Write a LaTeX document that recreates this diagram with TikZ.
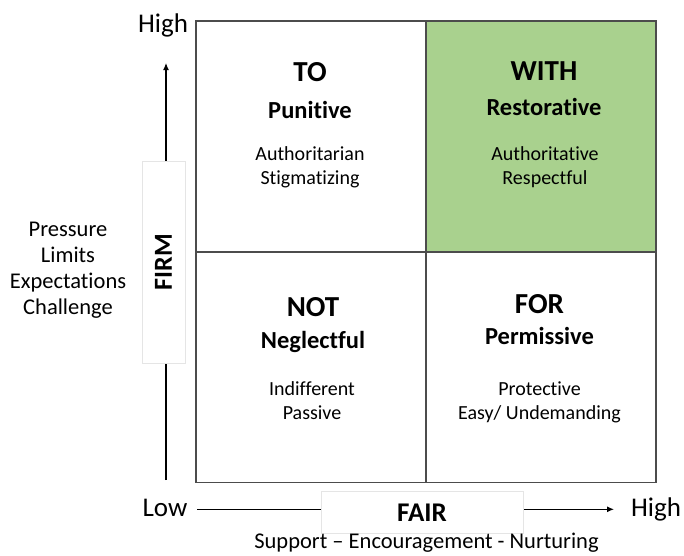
\documentclass[tikz,border=0pt]{standalone}
\usepackage{fontspec}
\setmainfont{Carlito}[Ligatures={TeX,NoCommon}]
\usetikzlibrary{arrows.meta}
\definecolor{withgreen}{HTML}{A9D18E}
\tikzstyle{cell}=[draw=black!70,line width=1.3pt,minimum width=230pt,minimum height=231pt,inner sep=0pt]
\tikzstyle{axis}=[line width=1.2pt,-{Latex[length=7pt,width=6pt]}]
\tikzstyle{tagbox}=[draw=black!10,fill=white,line width=0.5pt,inner sep=0pt]
\tikzstyle{mode}=[anchor=base,font=\fontsize{29}{32}\selectfont\bfseries]
\tikzstyle{kind}=[anchor=base,font=\fontsize{24.5}{27}\selectfont\bfseries]
\tikzstyle{desc}=[inner sep=0pt,font=\fontsize{20}{24}\selectfont,align=center]
\tikzstyle{side}=[inner sep=0pt,font=\fontsize{22.5}{26}\selectfont,align=center]
\tikzstyle{level}=[anchor=base,font=\fontsize{27}{30}\selectfont]

\begin{document}
\begin{tikzpicture}[x=1pt,y=-1pt]
  \useasboundingbox (0,0) rectangle (684,555);

  % the four windows
  \node[cell]                (to)   at (311,136.5) {};
  \node[cell,fill=withgreen] (with) at (541,136.5) {};
  \node[cell]                (not)  at (311,367)   {};
  \node[cell]                (for)  at (541,367)   {};

  \node[mode] (toname)   at (310,81.7) {TO};
  \node[kind] (tokind)   at (310,118)  {Punitive};
  \node[desc] (todesc)   at (310,167)  {Authoritarian\\Stigmatizing};

  \node[mode] (withname) at (544,80)   {WITH};
  \node[kind] (withkind) at (544,115)  {Restorative};
  \node[desc] (withdesc) at (545,167)  {Authoritative\\Respectful};

  \node[mode] (notname)  at (313,316)  {NOT};
  \node[kind] (notkind)  at (313,348)  {Neglectful};
  \node[desc] (notdesc)  at (312,400.5) {Indifferent\\Passive};

  \node[mode] (forname)  at (539.5,313.5) {FOR};
  \node[kind] (forkind)  at (539.5,344)   {Permissive};
  \node[desc] (fordesc)  at (539.5,402.5) {Protective\\Easy/ Undemanding};

  % vertical axis
  \coordinate (ylow) at (166,480);
  \coordinate (yhigh) at (166,63);
  \draw[axis] (ylow) -- (yhigh);
  \node[tagbox,minimum width=43pt,minimum height=202pt] (firm) at (163.5,262) {};
  \node[rotate=90,font=\fontsize{26}{28}\selectfont\bfseries] (firmtext) at (firm) {FIRM};
  \node[level] (yhightext) at (163,32.7) {High};
  \node[side] (firmlist) at (68,270) {Pressure\\Limits\\Expectations\\Challenge};

  % horizontal axis
  \coordinate (xlow) at (197,509.3);
  \coordinate (xhigh) at (614,509.3);
  \draw[axis] (xlow) -- (xhigh);
  \node[level] (xlowtext)  at (165,516.7) {Low};
  \node[level] (xhightext) at (656,516.7) {High};
  \node[tagbox,minimum width=202pt,minimum height=42pt] (fair) at (422,512) {};
  \node[anchor=base,font=\fontsize{27}{30}\selectfont\bfseries] (fairtext) at (422,521.7) {FAIR};
  \node[side,anchor=base] (fairlist) at (426.5,548) {Support -- Encouragement - Nurturing};
\end{tikzpicture}
\end{document}
